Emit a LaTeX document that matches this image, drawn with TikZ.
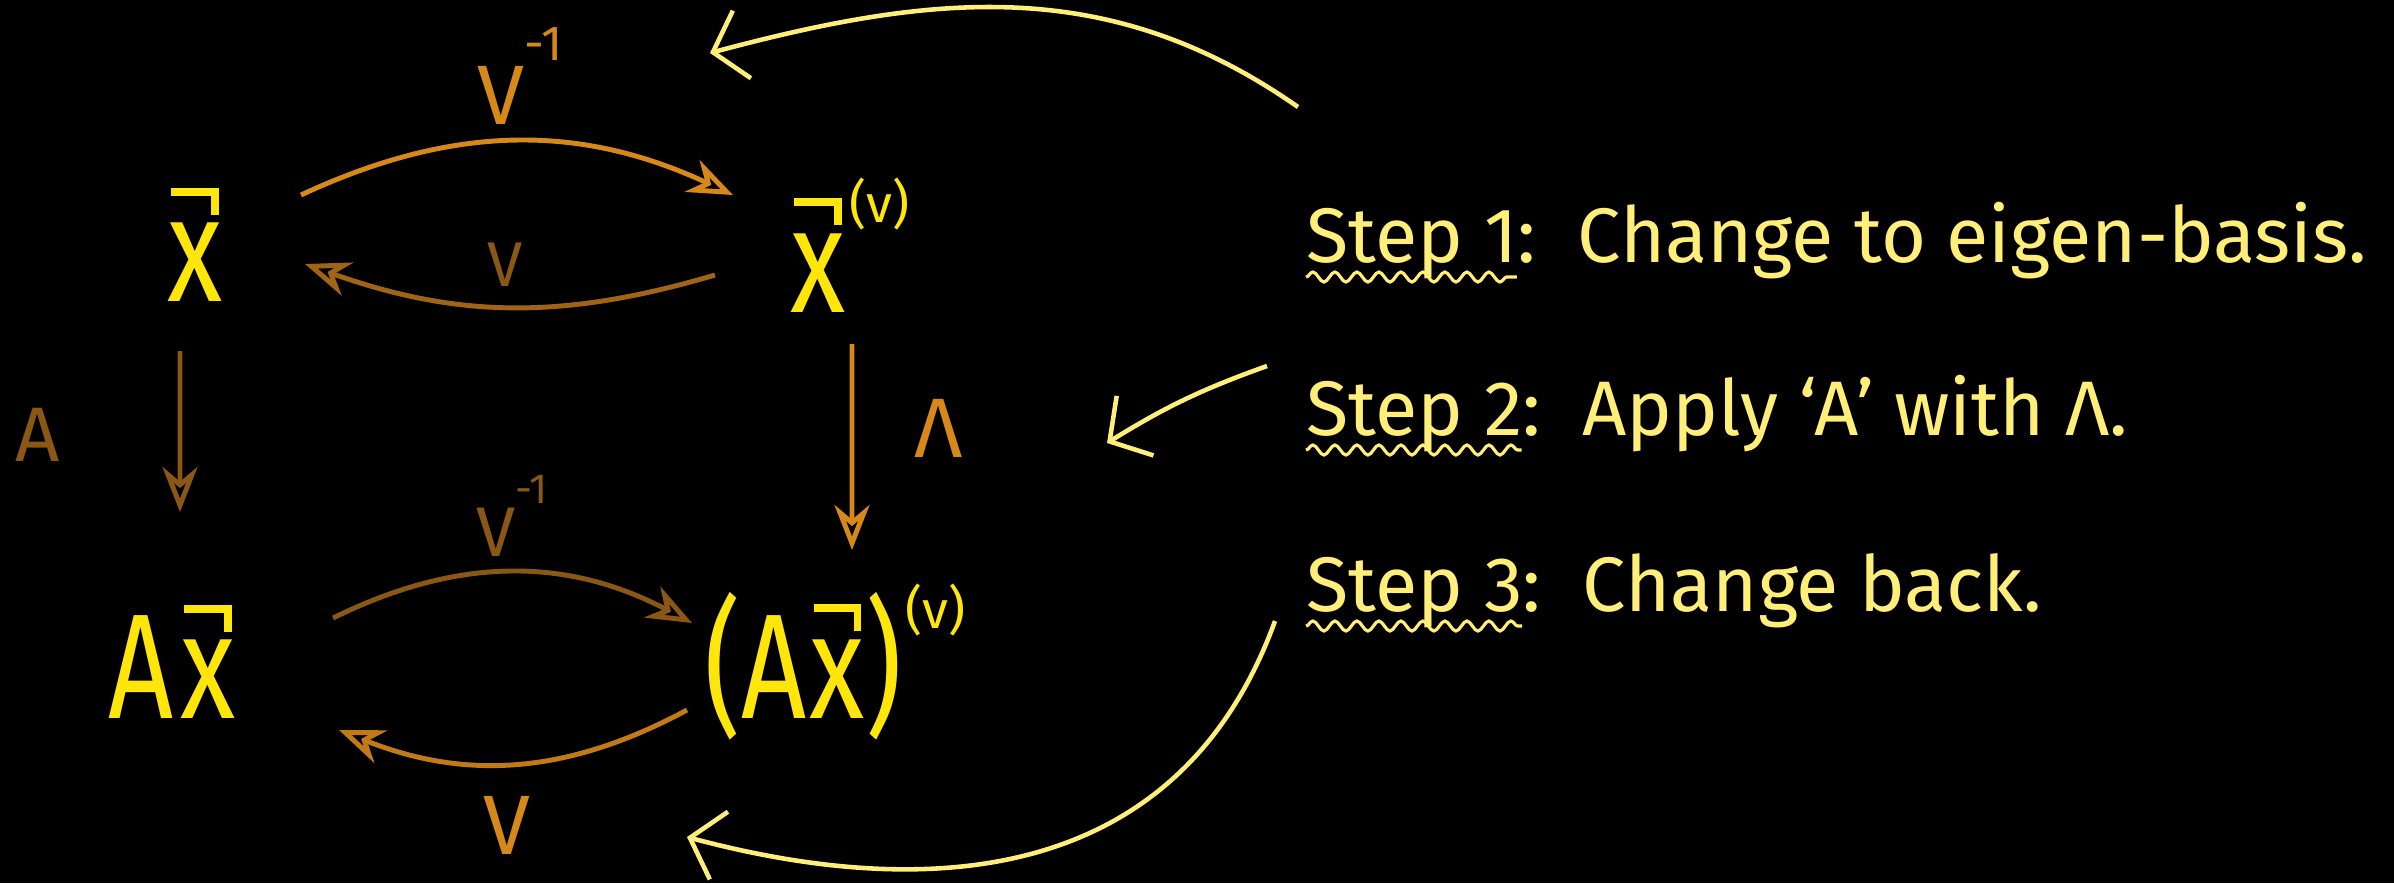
\documentclass[tikz,border=0pt]{standalone}
\usepackage{graphicx}
\usepackage{fontspec}
\setmainfont{Fira Sans}
\usetikzlibrary{arrows.meta,positioning,decorations.pathmorphing}

\definecolor{chalkyellow}{RGB}{255,230,10}
\definecolor{chalkpale}{RGB}{255,238,120}
\definecolor{chalkorange}{RGB}{214,136,24}
\definecolor{chalkbrown}{RGB}{138,88,20}
\definecolor{chalkumber}{RGB}{160,100,22}

\newcommand{\tall}[1]{\scalebox{0.95}[1.25]{#1}}
\newcommand{\vecbar}{\hbox{\rule[0.2em]{0.4em}{0.065em}\kern-0.065em\rule[0.04em]{0.065em}{0.225em}}}
\newcommand{\vx}{\leavevmode\vbox{\offinterlineskip\halign{\hfil##\hfil\cr
  \vecbar\cr\noalign{\kern1pt}\tall{x}\cr}}}
\newcommand{\upidx}[2]{\raisebox{0.75em}{\fontsize{#1}{#1}\selectfont #2}}

\begin{document}
\begin{tikzpicture}[x=1cm,y=1cm,
    term/.style={text=chalkyellow,font=\fontsize{34}{40}\selectfont,inner sep=1pt},
    maplabel/.style={font=\fontsize{24}{28}\selectfont,inner sep=1pt},
    steptext/.style={text=chalkpale,font=\fontsize{22}{26}\selectfont,inner sep=0pt,text height=0.75em,text depth=0.25em},
    maparrow/.style={-{Stealth[open,length=4.5mm,width=3.5mm]},line width=1.4pt},
    pointer/.style={-{Straight Barb[length=3mm,width=7mm]},line width=1.3pt,chalkpale},
    squiggle/.style={chalkpale,line width=0.9pt,decorate,decoration={snake,amplitude=0.5mm,segment length=2.2mm}}]
  \fill[black] (0,0) rectangle (23.94,-8.83);
  \useasboundingbox (0,0) rectangle (23.94,-8.83);

  \node[term] (x) at (1.95,-2.45) {\vx};
  \node[term] (xv) at (8.50,-2.45) {\vx\kern1pt\upidx{15}{(v)}};
  \node[term] (Ax) at (1.72,-6.62) {\tall{A}\kern2pt\vx};
  \node[term] (Axv) at (8.35,-6.62) {\tall{(A}\kern1pt\vx\tall{)}\kern1pt\upidx{15}{(v)}};

  \node[maplabel,text=chalkorange] (vinv) at (5.20,-0.76) {V\upidx{14}{-1}};
  \node[maplabel,text=chalkbrown,font=\fontsize{18}{20}\selectfont] (vmid) at (5.05,-2.65) {V};
  \node[maplabel,text=chalkbrown,font=\fontsize{22}{26}\selectfont] (alab) at (0.38,-4.35) {A};
  \node[maplabel,text=chalkorange] (lam) at (9.39,-4.28) {Λ};
  \node[maplabel,text=chalkbrown,font=\fontsize{20}{24}\selectfont] (vinvlow) at (5.12,-5.16) {V\upidx{12}{-1}};
  \node[maplabel,text=chalkorange] (vbot) at (5.07,-8.25) {V};

  % change of basis, there and back
  \draw[maparrow,chalkorange] ([shift={(1.06,0.50)}]x.center) to[bend left=25] ([shift={(-1.17,0.50)}]xv.center);
  \draw[maparrow,chalkumber] ([shift={(-1.35,-0.30)}]xv.center) to[bend left=18] ([shift={(1.10,-0.19)}]x.center);
  \draw[maparrow,chalkbrown] ([shift={(-0.15,-1.06)}]x.center) -- ([shift={(0.08,1.50)}]Ax.center);
  \draw[maparrow,chalkorange] ([shift={(0.02,-0.99)}]xv.center) -- ([shift={(0.17,1.12)}]Axv.center);
  \draw[maparrow,chalkbrown] ([shift={(1.61,0.44)}]Ax.center) to[bend left=27] ([shift={(-1.43,0.39)}]Axv.center);
  \draw[maparrow,chalkorange!90!black] ([shift={(-1.48,-0.48)}]Axv.center) to[bend left=25] ([shift={(1.67,-0.68)}]Ax.center);

  \node[steptext,anchor=base west] (s1) at (13.06,-2.62) {Step 1:};
  \node[steptext,right=4mm of s1] (t1) {Change to eigen-basis.};
  \node[steptext,anchor=base west] (s2) at (13.06,-4.35) {Step 2:};
  \node[steptext,right=4mm of s2] (t2) {Apply `A' with Λ.};
  \node[steptext,anchor=base west] (s3) at (13.06,-6.11) {Step 3:};
  \node[steptext,right=4mm of s3] (t3) {Change back.};

  \draw[squiggle] ([yshift=-1.5mm]s1.base west) -- ([xshift=-2mm,yshift=-1.5mm]s1.base east);
  \draw[squiggle] ([yshift=-1.5mm]s2.base west) -- ([xshift=-2mm,yshift=-1.5mm]s2.base east);
  \draw[squiggle] ([yshift=-1.5mm]s3.base west) -- ([xshift=-2mm,yshift=-1.5mm]s3.base east);

  % pointers from the steps back to the maps
  \draw[pointer] ([shift={(-0.08,1.55)}]s1.base west) to[out=145,in=15] ([shift={(1.90,0.23)}]vinv.center);
  \draw[pointer] ([shift={(-0.39,0.69)}]s2.base west) to[bend right=6] ([shift={(1.68,-0.15)}]lam.center);
  \draw[pointer] ([shift={(-0.31,-0.10)}]s3.base west) to[out=250,in=-15,looseness=1.1] ([shift={(1.80,-0.12)}]vbot.center);
\end{tikzpicture}
\end{document}
